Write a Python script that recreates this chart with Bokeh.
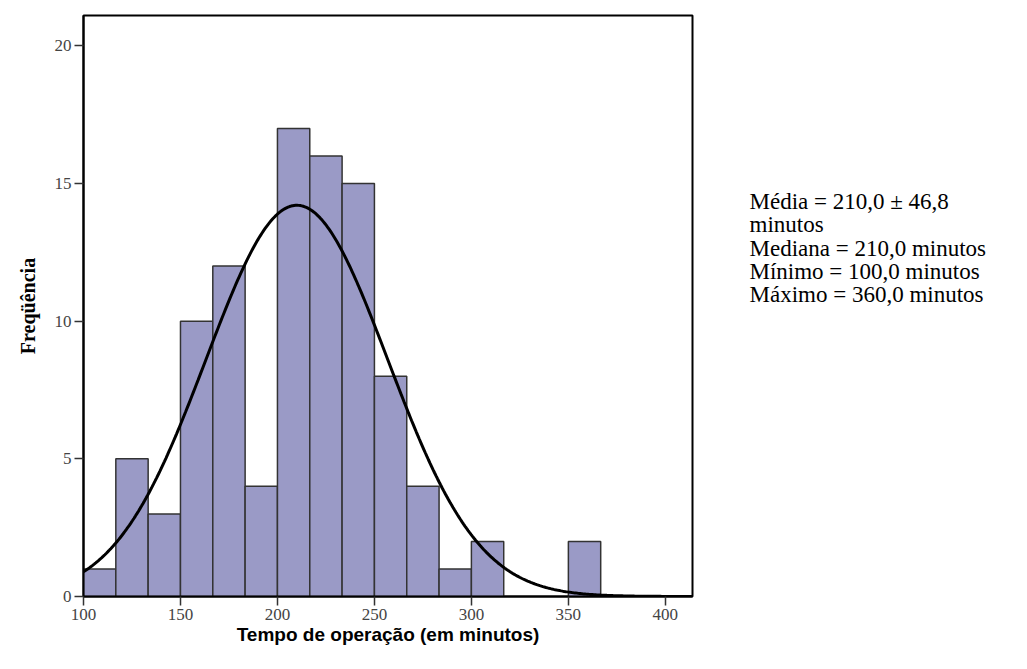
import numpy as np
from bokeh.plotting import figure
from bokeh.layouts import row
from bokeh.models import Range1d, FixedTicker, Label
from bokeh.embed import file_html
from bokeh.resources import INLINE

# ---- data ----
bin_start = 100.0
bin_width = 50.0 / 3.0
counts = [1, 5, 3, 10, 12, 4, 17, 16, 15, 8, 4, 1, 2, 0, 0, 2]
mean_min = 210.0
sd_min = 46.8
n_total = sum(counts)
x_ticks = [100, 150, 200, 250, 300, 350, 400]
y_ticks = [0, 5, 10, 15, 20]
stats_lines = [
    "Média = 210,0 \u00b1  46,8",
    "minutos",
    "Mediana = 210,0 minutos",
    "Mínimo = 100,0 minutos",
    "Máximo = 360,0 minutos",
]
x_label = "Tempo de operação (em minutos)"
y_label = "Freqüência"

# ---- derived ----
lefts = [bin_start + i * bin_width for i in range(len(counts))]
rights = [l + bin_width for l in lefts]
bars = [(l, r, c) for l, r, c in zip(lefts, rights, counts) if c > 0]

xc = np.linspace(100, 414, 400)
yc = n_total * bin_width / (sd_min * np.sqrt(2 * np.pi)) * np.exp(-((xc - mean_min) ** 2) / (2 * sd_min ** 2))

H = 661
TOP = 15
BOT = 65

# ---- main figure ----
p = figure(width=708, height=H, output_backend="svg", toolbar_location=None,
           x_range=Range1d(100, 414), y_range=Range1d(0, 21.1),
           min_border_left=83, min_border_right=16, min_border_top=TOP, min_border_bottom=BOT)
p.background_fill_color = "white"
p.border_fill_color = "white"
p.outline_line_color = "black"
p.outline_line_width = 2
p.xgrid.visible = False
p.ygrid.visible = False

p.quad(left=[b[0] for b in bars], right=[b[1] for b in bars],
       bottom=0, top=[b[2] for b in bars],
       fill_color="#9a9ac6", line_color="#333333", line_width=1.5)
p.line(xc, yc, line_color="black", line_width=3)

for ax in (p.xaxis[0], p.yaxis[0]):
    ax.axis_line_color = "black"
    ax.axis_line_width = 2
    ax.major_tick_line_color = "#333333"
    ax.major_tick_line_width = 1.5
    ax.major_tick_out = 9
    ax.major_tick_in = 0
    ax.minor_tick_line_color = None
    ax.major_label_text_font = "Liberation Serif"
    ax.major_label_text_font_size = "17px"
    ax.major_label_text_color = "#444444"
    ax.major_label_standoff = 3

p.xaxis.ticker = FixedTicker(ticks=x_ticks)
p.yaxis.ticker = FixedTicker(ticks=y_ticks)
p.xaxis.axis_label = x_label
p.xaxis.axis_label_text_font = "Liberation Sans"
p.xaxis.axis_label_text_font_style = "bold"
p.xaxis.axis_label_text_font_size = "19px"
p.xaxis.axis_label_text_color = "black"
p.xaxis.axis_label_standoff = 1
p.yaxis.axis_label = y_label
p.yaxis.axis_label_text_font = "Liberation Serif"
p.yaxis.axis_label_text_font_style = "bold"
p.yaxis.axis_label_text_font_size = "20px"
p.yaxis.axis_label_text_color = "black"
p.yaxis.axis_label_standoff = 13

tw = 310
t = figure(width=tw, height=H, output_backend="svg", toolbar_location=None,
           x_range=Range1d(0, tw), y_range=Range1d(BOT, H - TOP),
           min_border_left=0, min_border_right=0, min_border_top=TOP, min_border_bottom=BOT)
t.axis.visible = False
t.grid.visible = False
t.outline_line_color = None
for i, s in enumerate(stats_lines):
    t.add_layout(Label(x=41, y=H - 201 - i * 23.3, text=s,
                       text_font="Liberation Serif", text_font_size="23px",
                       text_color="black", text_baseline="alphabetic"))

layout = row(p, t)
open("out.html", "w").write(file_html(layout, INLINE))
